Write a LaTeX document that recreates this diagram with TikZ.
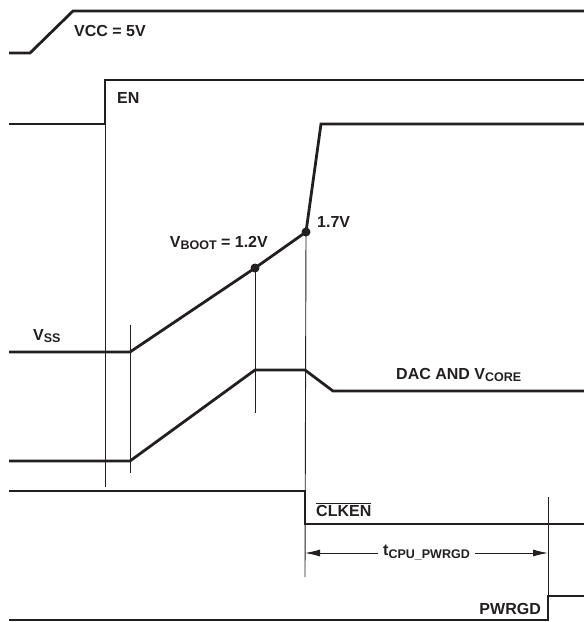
\documentclass[tikz,border=0pt]{standalone}
\usepackage{fontspec}
\setmainfont{Liberation Sans}
\usetikzlibrary{arrows.meta}
\definecolor{trace}{HTML}{231F20}
\tikzset{
  wave/.style={draw=trace, line width=2.8pt, line join=miter},
  guide/.style={draw=trace, line width=0.9pt},
  sig/.style={inner sep=0pt, font=\bfseries\fontsize{16}{19}\selectfont, text=trace},
  tap/.style={circle, fill=trace, inner sep=0pt, minimum size=9pt},
  >={Latex[length=15pt,width=7pt]},
}
\newcommand{\lowtxt}[1]{\raisebox{-0.35ex}{\fontsize{12.5}{14}\selectfont #1}}

\begin{document}
\begin{tikzpicture}[x=1pt,y=-1pt]
\useasboundingbox (0,0) rectangle (584,622);

% tap points on the soft-start ramp
\node[tap] (boot) at (255,268) {};
\node[tap] (kick) at (306,232) {};

% waveforms
\draw[wave] (9,53) -- (30,53) -- (73,11) -- (584,11);
\draw[wave] (9,124) -- (105,124) -- (105,80) -- (584,80);
\draw[wave] (9,352) -- (130,352) -- (boot.center) -- (kick.center) -- (321,124) -- (584,124);
\draw[wave] (9,461) -- (130,461) -- (255,370) -- (305,370) -- (333,391) -- (584,391);
\draw[wave] (9,491) -- (305,491) -- (305,524) -- (584,524);
\draw[wave] (9,620) -- (548,620) -- (548,596) -- (584,596);

% timing guides
\coordinate (enTop) at (105,80);
\coordinate (enBot) at (105,487);
\coordinate (ssTop) at (130,325);
\coordinate (ssBot) at (130,473);
\coordinate (bootBot) at (255,413);
\coordinate (kickBot) at (305,577);
\coordinate (pgTop) at (548,497);
\coordinate (pgBot) at (548,596);
\draw[guide] (enTop) -- (enBot);
\draw[guide] (ssTop) -- (ssBot);
\draw[guide] (boot.center) -- (bootBot);
\draw[guide] (kick.center) -- (kickBot);
\draw[guide] (pgTop) -- (pgBot);

% delay arrow
\coordinate (dlyL) at (305,553);
\coordinate (dlyR) at (548,553);
\draw[guide,<->] (dlyL) -- (dlyR)
  node[midway, sig, fill=white, inner xsep=5pt, inner ysep=3pt] (dly) {t\lowtxt{CPU\_PWRGD}};

% labels
\node[sig, anchor=base west] (vcc) at (74,36) {VCC = 5V};
\node[sig, anchor=base west] (en) at (117,103) {EN};
\node[sig, anchor=base east] (vboot) at (268,247) {V\lowtxt{BOOT} = 1.2V};
\node[sig, anchor=base west] (v17) at (317,227) {1.7V};
\node[sig, anchor=base west] (vss) at (33,340) {V\lowtxt{SS}};
\node[sig, anchor=base west] (dac) at (396,379) {DAC AND V\lowtxt{CORE}};
\node[sig, anchor=base west] (clken) at (316,516) {$\overline{\mbox{CLKEN}}$};
\node[sig, anchor=base east] (pwrgd) at (541,614) {PWRGD};
\end{tikzpicture}
\end{document}
